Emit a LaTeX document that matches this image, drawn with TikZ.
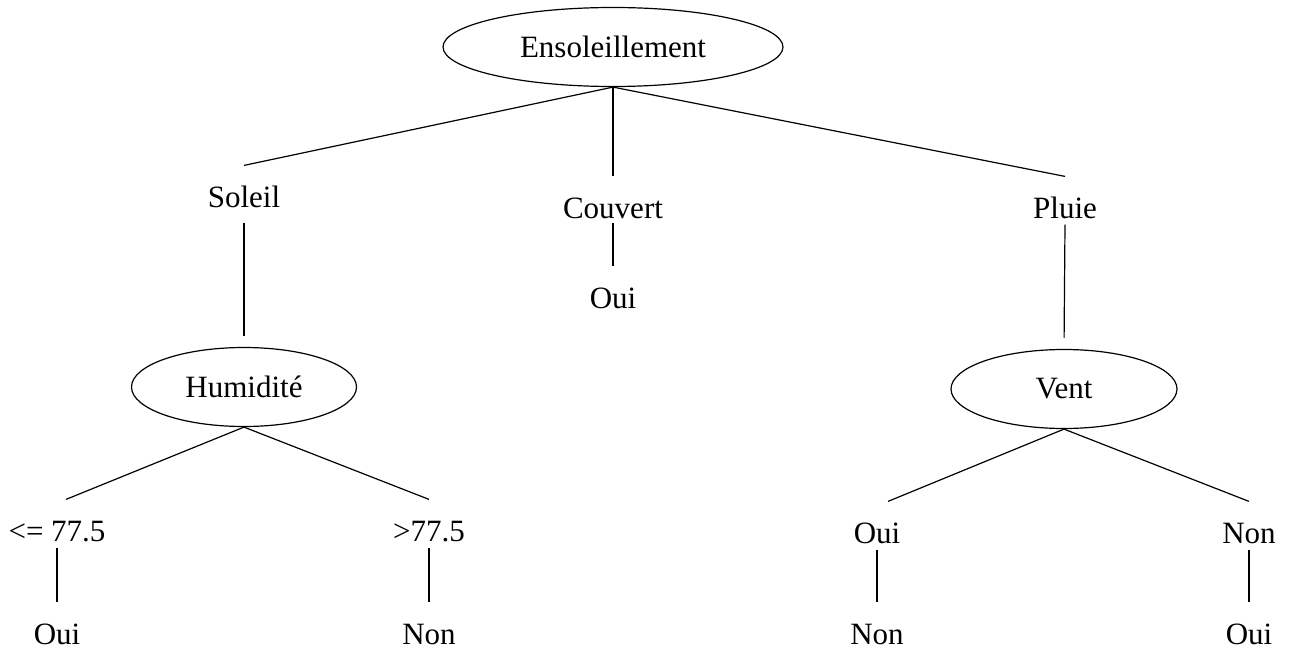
\documentclass[tikz,border=0pt]{standalone}
\usepackage{fontspec}
\setmainfont{Liberation Serif}
\usetikzlibrary{shapes.geometric}
\begin{document}
\begin{tikzpicture}[x=1pt,y=-1pt,line width=1.2pt,
  every node/.style={font=\fontsize{31}{37}\selectfont},
  attr/.style={ellipse,draw,inner sep=0pt,minimum height=79pt},
  val/.style={inner sep=0pt,text height=41pt,text depth=6pt,anchor=base},
  leaf/.style={inner sep=0pt,text height=41pt,text depth=0pt,anchor=base},
  gap/.style={shorten >=11pt}]
\useasboundingbox (0,0) rectangle (1293,650);
% attribute nodes
\node[attr,minimum width=340pt] (ens) at (613,47) {Ensoleillement};
\node[attr,minimum width=225pt] (hum) at (244,387) {Humidité};
\node[attr,minimum width=226pt] (vent) at (1064,389) {Vent};
% first level values
\node[val,text depth=15pt] (sol) at (244,207) {Soleil};
\node[val,text depth=4pt] (couv) at (613,218) {Couvert};
\node[val] (pluie) at (1065,218) {Pluie};
\node[leaf] (couvoui) at (613,308) {Oui};
% humidity branches
\node[val] (le) at (57,541) {<= 77.5};
\node[val] (gt) at (429,541) {>77.5};
\node[leaf] (leoui) at (57,644) {Oui};
\node[leaf] (gtnon) at (429,644) {Non};
% wind branches
\node[val] (vo) at (877,543) {Oui};
\node[val] (vn) at (1249,543) {Non};
\node[leaf] (vonon) at (877,644) {Non};
\node[leaf] (vnoui) at (1249,644) {Oui};
% connectors
\draw (ens.south) -- (sol.north);
\draw (ens.south) -- (couv.north);
\draw (ens.south) -- (pluie.north);
\draw (couv.south) -- (couvoui.north);
\draw[gap] (sol.south) -- (hum.north);
\draw[gap] (pluie.south) -- (vent.north);
\draw (hum.south) -- ([xshift=9pt]le.north);
\draw (hum.south) -- (gt.north);
\draw (le.south) -- (leoui.north);
\draw (gt.south) -- (gtnon.north);
\draw (vent.south) -- ([xshift=11pt]vo.north);
\draw (vent.south) -- (vn.north);
\draw (vo.south) -- (vonon.north);
\draw (vn.south) -- (vnoui.north);
\end{tikzpicture}
\end{document}
